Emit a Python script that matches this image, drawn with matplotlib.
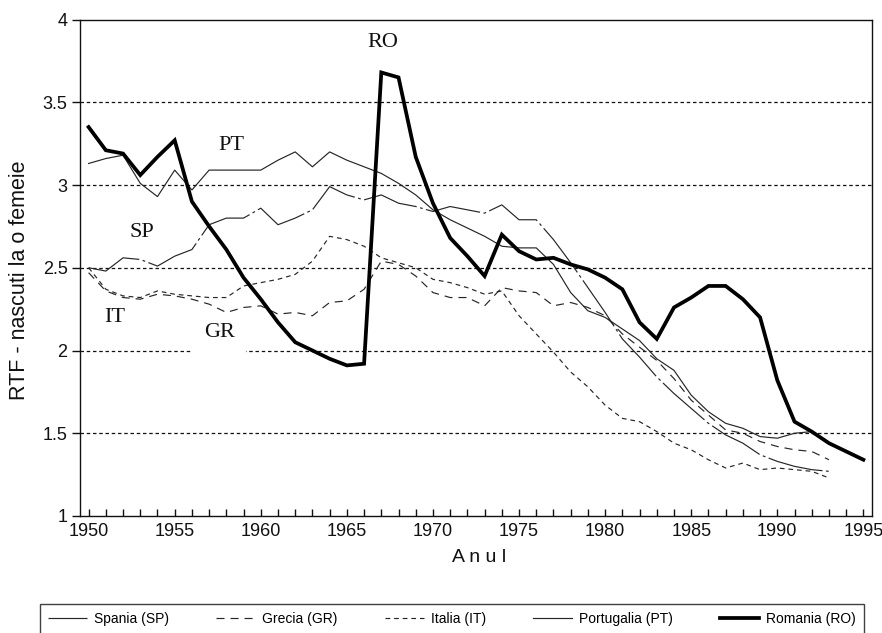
import matplotlib
matplotlib.use('Agg')
import matplotlib.pyplot as plt
from matplotlib.lines import Line2D

plt.rcParams['lines.scale_dashes'] = False

# ---- data -------------------------------------------------------------
years_ro = list(range(1950, 1996))
years_sp = list(range(1950, 1994))
years_gr = list(range(1950, 1994))
years_it = list(range(1950, 1994))
years_pt = list(range(1950, 1993))

ro = [3.35, 3.21, 3.19, 3.06, 3.17, 3.27, 2.90, 2.75, 2.61, 2.44,
      2.31, 2.17, 2.05, 2.00, 1.95, 1.91, 1.92, 3.68, 3.65, 3.17,
      2.89, 2.68, 2.57, 2.45, 2.70, 2.60, 2.55, 2.56, 2.52, 2.49,
      2.44, 2.37, 2.17, 2.07, 2.26, 2.32, 2.39, 2.39, 2.31, 2.20,
      1.82, 1.57, 1.51, 1.44, 1.39, 1.34]

pt = [3.13, 3.16, 3.18, 3.01, 2.93, 3.09, 2.97, 3.09, 3.09, 3.09,
      3.09, 3.15, 3.20, 3.11, 3.20, 3.15, 3.11, 3.07, 3.01, 2.94,
      2.85, 2.79, 2.74, 2.69, 2.63, 2.62, 2.62, 2.52, 2.35, 2.24,
      2.20, 2.13, 2.06, 1.95, 1.88, 1.73, 1.63, 1.56, 1.53, 1.48,
      1.47, 1.50, 1.51]

sp = [2.50, 2.48, 2.56, 2.55, 2.51, 2.57, 2.61, 2.76, 2.80, 2.80,
      2.86, 2.76, 2.80, 2.85, 2.99, 2.94, 2.91, 2.94, 2.89, 2.87,
      2.84, 2.87, 2.85, 2.83, 2.88, 2.79, 2.79, 2.67, 2.53, 2.38,
      2.23, 2.07, 1.96, 1.84, 1.74, 1.65, 1.56, 1.49, 1.44, 1.37,
      1.33, 1.30, 1.28, 1.27]

it = [2.50, 2.37, 2.33, 2.32, 2.36, 2.34, 2.33, 2.32, 2.32, 2.39,
      2.41, 2.43, 2.46, 2.54, 2.69, 2.67, 2.63, 2.56, 2.53, 2.50,
      2.43, 2.41, 2.38, 2.34, 2.36, 2.21, 2.10, 1.99, 1.87, 1.78,
      1.67, 1.59, 1.57, 1.51, 1.44, 1.40, 1.34, 1.29, 1.32, 1.28,
      1.29, 1.28, 1.27, 1.23]

gr = [2.47, 2.36, 2.32, 2.31, 2.34, 2.33, 2.31, 2.28, 2.23, 2.26,
      2.27, 2.22, 2.23, 2.21, 2.29, 2.30, 2.37, 2.54, 2.52, 2.45,
      2.35, 2.32, 2.32, 2.27, 2.38, 2.36, 2.35, 2.27, 2.29, 2.26,
      2.21, 2.10, 2.02, 1.94, 1.83, 1.70, 1.61, 1.52, 1.50, 1.45,
      1.42, 1.40, 1.39, 1.34]

yticks = [1, 1.5, 2, 2.5, 3, 3.5, 4]
ytick_labels = ['1', '1.5', '2', '2.5', '3', '3.5', '4']
xtick_years = list(range(1950, 1996))
legend_labels = ['Spania (SP)', 'Grecia (GR)', 'Italia (IT)',
                 'Portugalia (PT)', 'Romania (RO)']
y_label = 'RTF - nascuti la o femeie'
x_label = 'A n u l'

# ---- figure -----------------------------------------------------------
W, H = 882, 633
fig = plt.figure(figsize=(W / 100, H / 100), dpi=100)
ax = fig.add_axes([80 / W, 1 - 516 / H, 792 / W, (516 - 19.5) / H])
ax.set_xlim(1949.5, 1995.5)
ax.set_ylim(1, 4)

sans = ['Liberation Sans', 'DejaVu Sans']
serif = ['Liberation Serif', 'DejaVu Serif']

# grid
for v in [1.5, 2, 2.5, 3, 3.5]:
    ax.axhline(v, color='#111111', lw=0.9, ls=(0, (2.5, 2.0)), zorder=1)

ink = '#262626'
style_sp = dict(color=ink, lw=0.85, ls=(0, (40, 2.5, 2.0, 2.5)))
style_gr = dict(color=ink, lw=0.85, ls=(0, (5.8, 4.3)))
style_it = dict(color=ink, lw=0.85, ls=(0, (3.4, 2.8)))
style_pt = dict(color=ink, lw=0.85, ls='-')
style_ro = dict(color='#000000', lw=2.7, ls='-')

ax.plot(years_sp, sp, zorder=3, **style_sp)
ax.plot(years_gr, gr, zorder=3, **style_gr)
ax.plot(years_it, it, zorder=3, **style_it)
ax.plot(years_pt, pt, zorder=3, **style_pt)
ax.plot(years_ro, ro, zorder=4, solid_joinstyle='miter', **style_ro)

# series labels
lab_kw = dict(fontsize=16, family=serif, ha='center', va='center', color='#111111')
ax.text(1967.1, 3.86, 'RO', zorder=2, **lab_kw)
ax.text(1958.3, 3.24, 'PT', zorder=2, **lab_kw)
ax.text(1953.1, 2.71, 'SP', zorder=2, **lab_kw)
ax.text(1951.5, 2.20, 'IT', zorder=2, **lab_kw)
ax.text(1957.6, 2.11, 'GR', zorder=2,
        bbox=dict(boxstyle='square,pad=0.5', fc='white', ec='none'), **lab_kw)

# axes / ticks
for s in ax.spines.values():
    s.set_color('#111111')
    s.set_linewidth(1.0)
ax.set_yticks(yticks)
ax.set_yticklabels(ytick_labels, family=sans, fontsize=13)
ax.tick_params(axis='y', direction='out', length=6, width=1.0, pad=3,
               colors='#111111')
ax.set_xticks(xtick_years)
ax.set_xticklabels([str(y) if y % 5 == 0 else '' for y in xtick_years],
                   family=sans, fontsize=13)
ax.tick_params(axis='x', direction='in', length=5, width=1.0, pad=5,
               colors='#111111')

fig.text(20 / W, 1 - 280 / H, y_label, rotation=90, ha='center', va='center',
         fontsize=15.5, family=sans, color='#111111')
fig.text(479 / W, 1 - 557 / H, x_label, ha='center', va='center',
         fontsize=14, family=sans, color='#111111')

# legend
handles = [Line2D([], [], **style_sp), Line2D([], [], **style_gr),
           Line2D([], [], **style_it), Line2D([], [], **style_pt),
           Line2D([], [], **style_ro)]
leg = fig.legend(handles, legend_labels, loc='upper left',
                 bbox_to_anchor=(40 / W, 1 - 604 / H), ncol=5,
                 prop=dict(family=sans, size=10),
                 frameon=True, fancybox=False, edgecolor='#111111',
                 handlelength=2.8, handletextpad=0.5, columnspacing=3.4,
                 borderpad=0.6, borderaxespad=0)
leg.get_frame().set_linewidth(1.0)

fig.savefig('out.png', dpi=100, facecolor='white')
